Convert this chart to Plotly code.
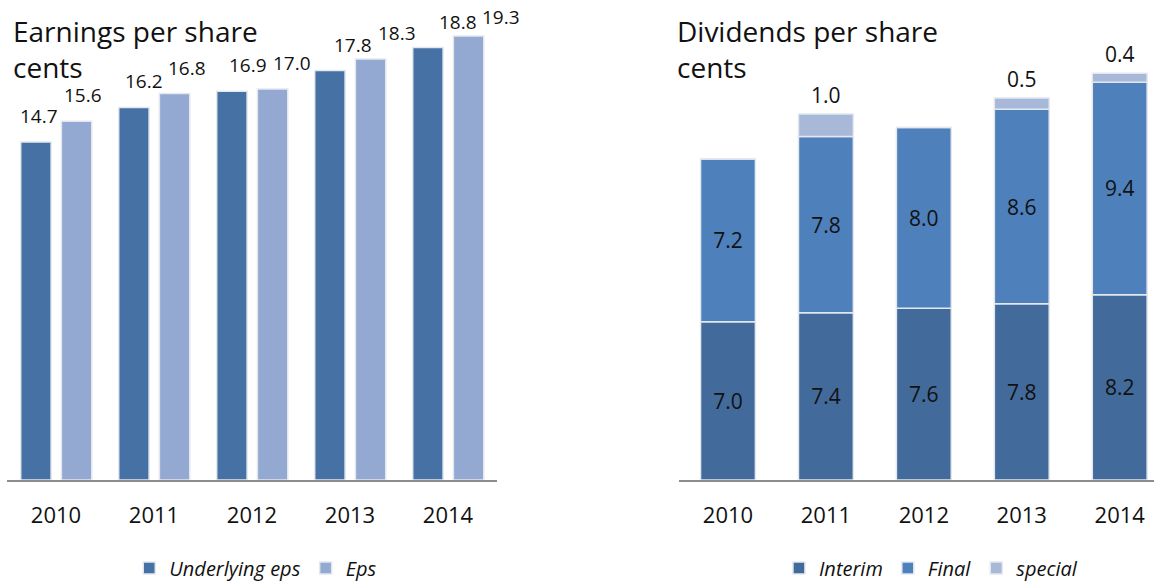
import plotly.graph_objects as go

years = ["2010", "2011", "2012", "2013", "2014"]
underlying_eps = [14.7, 16.2, 16.9, 17.8, 18.8]
eps = [15.6, 16.8, 17.0, 18.3, 19.3]

interim = [7.0, 7.4, 7.6, 7.8, 8.2]
final = [7.2, 7.8, 8.0, 8.6, 9.4]
special = [None, 1.0, None, 0.5, 0.4]

FONT = "Open Sans"
C_UND = "#4571A5"
C_EPS = "#94A9D1"
C_INT = "#426A9B"
C_FIN = "#4E80BC"
C_SPE = "#A8B8D8"
EDGE = dict(color="#E4E8EE", width=1.5)
TXT = "#111111"

PLOT_H = 480
YMAX_L = PLOT_H / 23
YMAX_R = PLOT_H / 22.6

xs = list(range(len(years)))
fig = go.Figure()

W_L = 0.31
OFF_U = -0.36
OFF_E = 0.055

fig.add_trace(go.Bar(x=xs, y=underlying_eps, name="Underlying eps", marker=dict(color=C_UND, line=EDGE),
                     width=W_L, offset=OFF_U, xaxis="x", yaxis="y", legend="legend"))
fig.add_trace(go.Bar(x=xs, y=eps, name="Eps", marker=dict(color=C_EPS, line=EDGE),
                     width=W_L, offset=OFF_E, xaxis="x", yaxis="y", legend="legend"))

W_R = 0.56
base_fin = interim
base_spe = [a + b for a, b in zip(interim, final)]
sp_vals = [s if s is not None else 0 for s in special]

fig.add_trace(go.Bar(x=xs, y=interim, name="Interim", marker=dict(color=C_INT, line=EDGE), width=W_R,
                     text=[f"{v:.1f}" for v in interim], textposition="inside", insidetextanchor="middle",
                     textfont=dict(family=FONT, size=21, color=TXT),
                     xaxis="x2", yaxis="y2", legend="legend2"))
fig.add_trace(go.Bar(x=xs, y=final, base=base_fin, name="Final", marker=dict(color=C_FIN, line=EDGE), width=W_R,
                     text=[f"{v:.1f}" for v in final], textposition="inside", insidetextanchor="middle",
                     textfont=dict(family=FONT, size=21, color=TXT),
                     xaxis="x2", yaxis="y2", legend="legend2"))
fig.add_trace(go.Bar(x=xs, y=sp_vals, base=base_spe, name="special", marker=dict(color=C_SPE, line=EDGE), width=W_R,
                     xaxis="x2", yaxis="y2", legend="legend2"))


def label_shift(v):
    top_px = PLOT_H * (1 - v / YMAX_L)
    return max(0, min(11, top_px - 26 - 6))


annos = []
for i, (u, e) in enumerate(zip(underlying_eps, eps)):
    annos.append(dict(x=i + OFF_U + W_L / 2, y=u, xref="x", yref="y", text=f"{u:.1f}", showarrow=False,
                      yanchor="bottom", yshift=label_shift(u), xshift=3 + 6.7 * i,
                      font=dict(family=FONT, size=19, color=TXT)))
    annos.append(dict(x=i + OFF_E + W_L / 2, y=e, xref="x", yref="y", text=f"{e:.1f}", showarrow=False,
                      yanchor="bottom", yshift=label_shift(e), xshift=6 + 6.7 * i,
                      font=dict(family=FONT, size=19, color=TXT)))
for i, s in enumerate(special):
    if s is not None:
        annos.append(dict(x=i, y=base_spe[i] + s, xref="x2", yref="y2", text=f"{s:.1f}", showarrow=False,
                          yanchor="bottom", yshift=3, font=dict(family=FONT, size=21, color=TXT)))

annos.append(dict(x=11 / 1154, y=1.0, xref="paper", yref="paper", xanchor="left", yanchor="top", align="left",
                  text="Earnings per share<br>cents", showarrow=False, yshift=-10,
                  font=dict(family=FONT, size=28, color=TXT)))
annos.append(dict(x=675 / 1154, y=1.0, xref="paper", yref="paper", xanchor="left", yanchor="top", align="left",
                  text="Dividends per share<br>cents", showarrow=False, yshift=-10,
                  font=dict(family=FONT, size=28, color=TXT)))

axis_common = dict(tickvals=xs, ticktext=years, showgrid=False, zeroline=False, showline=True,
                   linecolor="#8C8C8C", linewidth=2, ticks="", ticklabelstandoff=15,
                   tickfont=dict(family=FONT, size=22, color=TXT), fixedrange=True)

fig.update_layout(
    width=1154, height=583,
    margin=dict(l=0, r=0, t=0, b=103),
    paper_bgcolor="white", plot_bgcolor="white",
    barmode="overlay",
    xaxis=dict(domain=[7 / 1154, 497 / 1154], range=[-0.5, 4.5], **axis_common),
    xaxis2=dict(domain=[679 / 1154, 1.0], range=[-0.5, 4.35], **axis_common),
    yaxis=dict(range=[0, YMAX_L], visible=False, anchor="x"),
    yaxis2=dict(range=[0, YMAX_R], visible=False, anchor="x2"),
    showlegend=True,
    legend=dict(orientation="h", x=0.112, y=15 / 583, xref="paper", yref="container",
                xanchor="left", yanchor="middle",
                font=dict(family=FONT, size=20, style="italic", color=TXT), bgcolor="rgba(0,0,0,0)"),
    legend2=dict(orientation="h", x=0.675, y=15 / 583, xref="paper", yref="container",
                 xanchor="left", yanchor="middle",
                 font=dict(family=FONT, size=20, style="italic", color=TXT), bgcolor="rgba(0,0,0,0)"),
    annotations=annos,
)
fig.write_html("out.html", config={"displayModeBar": False},
               post_script="document.body.style.margin='0';document.body.style.padding='0';")
